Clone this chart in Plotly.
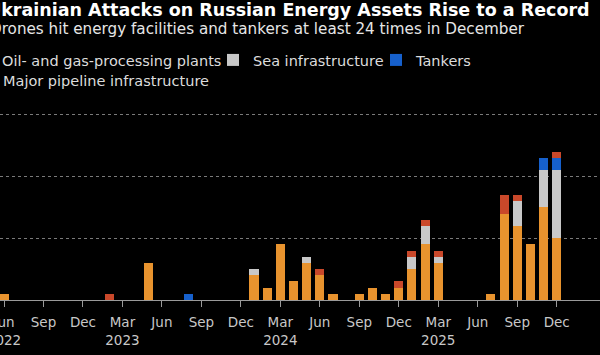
import plotly.graph_objects as go

# Months from Jun 2022 to Dec 2025
months = ["2022-06", "2022-07", "2022-08", "2022-09", "2022-10", "2022-11", "2022-12",
          "2023-01", "2023-02", "2023-03", "2023-04", "2023-05", "2023-06", "2023-07",
          "2023-08", "2023-09", "2023-10", "2023-11", "2023-12",
          "2024-01", "2024-02", "2024-03", "2024-04", "2024-05", "2024-06", "2024-07",
          "2024-08", "2024-09", "2024-10", "2024-11", "2024-12",
          "2025-01", "2025-02", "2025-03", "2025-04", "2025-05", "2025-06", "2025-07",
          "2025-08", "2025-09", "2025-10", "2025-11", "2025-12"]

oil_gas = [1, 0, 0, 0, 0, 0, 0,
           0, 0, 0, 0, 6, 0, 0,
           0, 0, 0, 0, 0,
           4, 2, 9, 3, 6, 4, 1,
           0, 1, 2, 1, 2,
           5, 9, 6, 0, 0, 0, 1,
           14, 12, 9, 15, 10]

sea = [0, 0, 0, 0, 0, 0, 0,
       0, 0, 0, 0, 0, 0, 0,
       0, 0, 0, 0, 0,
       1, 0, 0, 0, 1, 0, 0,
       0, 0, 0, 0, 0,
       2, 3, 1, 0, 0, 0, 0,
       0, 4, 0, 6, 11]

tankers = [0, 0, 0, 0, 0, 0, 0,
           0, 0, 0, 0, 0, 0, 0,
           1, 0, 0, 0, 0,
           0, 0, 0, 0, 0, 0, 0,
           0, 0, 0, 0, 0,
           0, 0, 0, 0, 0, 0, 0,
           0, 0, 0, 2, 2]

pipeline = [0, 0, 0, 0, 0, 0, 0,
            0, 1, 0, 0, 0, 0, 0,
            0, 0, 0, 0, 0,
            0, 0, 0, 0, 0, 1, 0,
            0, 0, 0, 0, 1,
            1, 1, 1, 0, 0, 0, 0,
            3, 1, 0, 0, 1]

tick_months = months[::3]
tick_labels = ["Jun<br>2022", "Sep", "Dec", "Mar<br>2023", "Jun", "Sep", "Dec",
               "Mar<br>2024", "Jun", "Sep", "Dec", "Mar<br>2025", "Jun", "Sep", "Dec"]

series = [
    ("Oil- and gas-processing plants", oil_gas, "#E8932E", "legend"),
    ("Sea infrastructure", sea, "#C8C8C8", "legend2"),
    ("Tankers", tankers, "#1660CC", "legend3"),
    ("Major pipeline infrastructure", pipeline, "#C9482A", "legend4"),
]

FONT = "'DejaVu Sans', Roboto, sans-serif"

fig = go.Figure()
for name, vals, color, lg in series:
    fig.add_trace(go.Bar(x=months, y=vals, name=name, legend=lg,
                         marker=dict(color=color, line=dict(width=0))))

W = 600.0
def leg(xpx, ymid):
    return dict(orientation="h", x=xpx / W, xanchor="left",
                y=1 + (100 - ymid) / 200.0, yanchor="middle",
                font=dict(size=14.5, color="#dcdcdc", family=FONT),
                bgcolor="rgba(0,0,0,0)", borderwidth=0)

fig.update_layout(
    width=600, height=355,
    barmode="stack", bargap=0.31,
    paper_bgcolor="#000000", plot_bgcolor="#000000",
    margin=dict(l=0, r=0, t=100, b=55, autoexpand=False),
    font=dict(family=FONT, color="#d0d0d0", size=14),
    showlegend=True,
    legend=leg(-38, 60),
    legend2=leg(213, 60),
    legend3=leg(376, 60),
    legend4=leg(-37, 80),
    xaxis=dict(type="category", categoryorder="array", categoryarray=months,
               range=[-0.304, 45.29],
               tickmode="array", tickvals=tick_months, ticktext=tick_labels,
               ticks="outside", ticklen=6, tickcolor="#9a9a9a", tickwidth=1,
               ticklabelstandoff=4,
               showline=True, linecolor="#9a9a9a", linewidth=1,
               showgrid=False, zeroline=False,
               tickfont=dict(size=13.5, color="#c8c8c8", family=FONT)),
    yaxis=dict(range=[0, 32.4], tickvals=[10, 20, 30], showticklabels=False,
               showgrid=True, gridcolor="#7a7a7a", griddash="dot", gridwidth=1,
               zeroline=False, showline=False, ticks=""),
    annotations=[
        dict(text="<b>Ukrainian Attacks on Russian Energy Assets Rise to a Record</b>",
             xref="paper", yref="paper", x=-14.8 / W, y=1 + (100 - 10) / 200.0,
             xanchor="left", yanchor="middle",
             showarrow=False, font=dict(size=17.5, color="#ffffff", family=FONT)),
        dict(text="Drones hit energy facilities and tankers at least 24 times in December",
             xref="paper", yref="paper", x=-12.5 / W, y=1 + (100 - 29) / 200.0,
             xanchor="left", yanchor="middle",
             showarrow=False, font=dict(size=15.2, color="#e6e6e6", family=FONT)),
    ],
)

fig.write_html("out.html",
               config={"displayModeBar": False, "staticPlot": True},
               post_script="document.body.style.margin='0';"
                           "document.body.style.background='#000';")
